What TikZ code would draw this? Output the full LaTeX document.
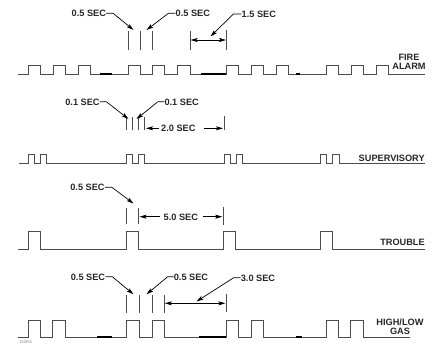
\documentclass[tikz,border=0pt]{standalone}
\usepackage{fontspec}
\setmainfont{Liberation Sans}
\usetikzlibrary{arrows.meta}
\begin{document}
\begin{tikzpicture}[x=1pt,y=-1pt,
  sig/.style={line width=0.8pt,black!70},
  brk/.style={line width=1.4pt,black},
  tickline/.style={line width=0.8pt,black!70},
  lead/.style={line width=0.7pt,black,-{Stealth[length=7pt,width=4pt,inset=1.5pt]}},
  dim/.style={line width=0.7pt,black,{Stealth[length=7pt,width=4pt,inset=1.5pt]}-{Stealth[length=7pt,width=4pt,inset=1.5pt]}},
  lbl/.style={inner sep=0pt,font=\fontsize{9.2}{10}\selectfont\bfseries,text height=6.6pt,text depth=0pt,black!85},
  side/.style={lbl,align=center}]
\useasboundingbox (0,0) rectangle (433,345);
% ---------- FIRE ALARM ----------
\draw[sig] (18.3,74) foreach \a/\b in {28.7/40.7,53.3/65.3,78.3/90.3,128/140,152.3/164.7,177.7/190,226.7/238.7,251.3/263.3,276/288,326/338,351/363,376.7/388.7}{ -- (\a,74) -- (\a,65) -- (\b,65) -- (\b,74)} -- (425,74);
\draw[brk] (100,74) -- (111.7,74);
\draw[brk] (201,74) -- (226.3,74);
\draw[brk] (296,74) -- (300,74);
\foreach \x in {128,140,152.3,190}{\draw[tickline] (\x,31) -- (\x,50);}
\draw[tickline] (226.7,30) -- (226.7,50);
\node[lbl] (fa1) at (88.8,13.3) {0.5 SEC};
\node[lbl] (fa2) at (192.8,13.3) {0.5 SEC};
\node[lbl] (fa3) at (258.8,14) {1.5 SEC};
\coordinate (fa1t) at (133.5,30);
\coordinate (fa2t) at (146.5,30);
\coordinate (fa3t) at (210.5,36.5);
\coordinate (faL) at (190.6,40);
\coordinate (faR) at (226.1,40);
\draw[lead] (fa1.east) -- ++(7,0) -- (fa1t);
\draw[lead] (fa2.west) -- ++(-7,0) -- (fa2t);
\draw[lead] (fa3.west) -- ++(-8,0) -- (fa3t);
\draw[dim] (faL) -- (faR);
\node[side] (fire) at (409,56.7) {FIRE};
\node[side] (alarm) at (409,66.7) {ALARM};
% ---------- SUPERVISORY ----------
\draw[sig] (19,163.7) foreach \a/\b in {28.7/34.7,40.7/46.7,126.7/132.7,138.7/144.7,224/230,236/242,320.7/326.7,332.7/339}{ -- (\a,163.7) -- (\a,154.3) -- (\b,154.3) -- (\b,163.7)} -- (425,163.7);
\foreach \x in {126.7,132.7,138.7,144.7}{\draw[tickline] (\x,116.7) -- (\x,130);}
\draw[tickline] (224,115.7) -- (224,130);
\node[lbl] (su1) at (82.5,101.7) {0.1 SEC};
\node[lbl] (su2) at (181.7,101.7) {0.1 SEC};
\node[lbl] (su3) at (178.3,128.3) {2.0 SEC};
\coordinate (su1t) at (128.5,119);
\coordinate (su2t) at (136.5,119);
\coordinate (su3l) at (146,128.3);
\coordinate (su3r) at (223,128.3);
\draw[lead] (su1.east) -- ++(6.5,0) -- (su1t);
\draw[lead] (su2.west) -- ++(-6.5,0) -- (su2t);
\draw[lead] ([xshift=-2pt]su3.west) -- (su3l);
\draw[lead] ([xshift=8pt]su3.east) -- (su3r);
\node[side] (sup) at (391.7,157.7) {SUPERVISORY};
% ---------- TROUBLE ----------
\draw[sig] (18.3,249.3) foreach \a/\b in {28/40,126/138,223.3/235.3,320/332}{ -- (\a,249.3) -- (\a,231) -- (\b,231) -- (\b,249.3)} -- (425,249.3);
\foreach \x in {126,138}{\draw[tickline] (\x,208.3) -- (\x,224.3);}
\draw[tickline] (223.3,206.7) -- (223.3,225);
\node[lbl] (tr1) at (87.5,187.3) {0.5 SEC};
\node[lbl] (tr2) at (180.8,216.7) {5.0 SEC};
\coordinate (tr1t) at (133.5,203.5);
\coordinate (tr2l) at (139.5,216.7);
\coordinate (tr2r) at (222.3,216.7);
\draw[lead] (tr1.east) -- ++(7,0) -- (tr1t);
\draw[lead] ([xshift=-3pt]tr2.west) -- (tr2l);
\draw[lead] ([xshift=5pt]tr2.east) -- (tr2r);
\node[side] (trb) at (402.5,241.7) {TROUBLE};
% ---------- HIGH/LOW GAS ----------
\draw[sig] (18.3,337) foreach \a/\b in {28/40,52.7/65,126.7/139,152/164,226/238.3,251/263.3,326/338.3,350.7/363}{ -- (\a,337) -- (\a,320) -- (\b,320) -- (\b,337)} -- (410,337);
\draw[brk] (97.3,337) -- (111.7,337);
\draw[brk] (199.3,337) -- (225.6,337);
\draw[brk] (296,337) -- (301.7,337);
\foreach \x in {126.7,139,152,164}{\draw[tickline] (\x,295) -- (\x,312.7);}
\draw[tickline] (226,294.3) -- (226,312.3);
\node[lbl] (ga1) at (88,276.7) {0.5 SEC};
\node[lbl] (ga2) at (191,276.7) {0.5 SEC};
\node[lbl] (ga3) at (258,277.7) {3.0 SEC};
\coordinate (ga1t) at (133.5,294.3);
\coordinate (ga2t) at (146.5,294.3);
\coordinate (ga3t) at (196.5,301.5);
\coordinate (gaL) at (164.8,303.3);
\coordinate (gaR) at (225.4,303.3);
\draw[lead] (ga1.east) -- ++(7,0) -- (ga1t);
\draw[lead] (ga2.west) -- ++(-6,0) -- (ga2t);
\draw[lead] (ga3.west) -- ++(-7,0) -- (ga3t);
\draw[dim] (gaL) -- (gaR);
\node[side] (high) at (400,321.7) {HIGH/LOW};
\node[side] (gas) at (400,331) {GAS};
% figure id
\node[inner sep=0pt,font=\fontsize{4}{5}\selectfont,black!50] (fid) at (26,342.3) {D4055};
\end{tikzpicture}
\end{document}
